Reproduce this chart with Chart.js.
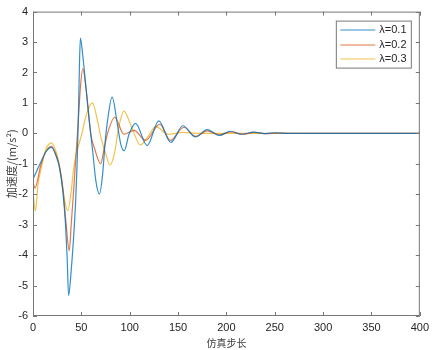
<!DOCTYPE html>
<html>
<head>
<meta charset="utf-8">
<script src="https://cdn.jsdelivr.net/npm/chart.js@4.4.0/dist/chart.umd.min.js"></script>
<style>
html, body { margin: 0; padding: 0; background: #fff; }
canvas { display: block; }
</style>
</head>
<body>
<canvas id="chart" width="434" height="350"></canvas>
<script>
// values (extrema and a few points in between)
let labels = ['λ=0.1', 'λ=0.2', 'λ=0.3'];
let colors = ['rgba(0,114,189,0.8)', 'rgba(217,83,25,0.8)', 'rgba(237,177,32,0.8)'];

let steps1 = [0, 8, 13, 19, 24, 27.5, 31, 33.6, 35.3, 36.8, 39.5, 42, 44, 45.5, 46.5, 47.3, 48, 49, 51.4, 54.8, 58.2, 61.7, 65, 68.7,
    72, 74.7, 77, 81.8, 87.3, 90.8, 94.3, 99.3, 106, 118, 130, 142.5, 155, 168, 180, 192.5, 204, 215.5, 228, 240, 251, 262, 300, 400];
let acc1 = [-1.5, -0.95, -0.62, -0.46, -0.75, -1.15, -1.95, -2.98, -4.07, -5.32, -4.5, -3.4, -2.3, -1.1, 0, 1.1, 2.2, 3.13, 2.58, 1.49, 0.4, -0.58, -1.56, -1.99,
    -1.34, -0.25, 0.4, 1.19, 0.29, -0.36, -0.57, -0.03, 0.33, -0.4, 0.41, -0.3, 0.25, -0.12, 0.12, -0.07, 0.07, -0.03, 0.04, -0.01, 0.02, 0, 0, 0];

let steps2 = [0, 2, 8, 13, 19, 24, 27.5, 31, 34, 37.5, 39.5, 42, 44.5, 47, 49, 51.5, 54.8, 60, 63.4, 70, 73.7, 78, 84.5,
    94, 104.5, 116.5, 131, 142, 156, 168, 180, 193, 205, 217, 229, 241, 252, 265, 300, 400];
let acc2 = [-1.6, -1.8, -1.05, -0.62, -0.43, -0.72, -1.1, -1.85, -2.9, -3.85, -3.0, -1.9, -0.7, 0.5, 1.5, 2.13, 1.49, -0.07, -0.47, -1.0, -0.47, 0.1, 0.53,
    -0.03, 0.1, -0.23, 0.3, -0.23, 0.2, -0.1, 0.08, -0.05, 0.05, -0.03, 0.03, -0.01, 0.01, 0, 0, 0];

let steps3 = [0, 2.5, 5.2, 8.6, 13, 19, 24, 27, 30.5, 33, 36, 39.5, 41.5, 44.5, 48, 51, 55, 61.5, 66.8, 70.3, 75.4, 79.5, 84,
    89, 94, 102, 111, 119, 127, 140, 155, 170, 190, 300, 400];
let acc3 = [-1.95, -2.55, -1.67, -1.13, -0.55, -0.31, -0.62, -1.0, -1.7, -2.25, -2.54, -1.9, -1.3, -0.7, -0.3, 0.05, 0.6, 1.0, 0.4, -0.14, -0.69, -1.04, -0.69,
    0.25, 0.73, 0.2, -0.38, -0.1, 0.22, -0.03, 0.03, 0, 0, 0, 0];

let xTicks = [0, 50, 100, 150, 200, 250, 300, 350, 400];
let yTicks = [-6, -5, -4, -3, -2, -1, 0, 1, 2, 3, 4];

let axisColor = '#777777';
let textColor = '#262626';

function points(xs, ys) {
    let p = [];
    for (let i = 0; i < xs.length; i++) {
        p.push({ x: xs[i], y: ys[i] });
    }
    return p;
}

let series = [points(steps1, acc1), points(steps2, acc2), points(steps3, acc3)];

let datasets = series.map((d, i) => ({
    label: labels[i],
    data: d,
    borderColor: colors[i],
    backgroundColor: colors[i],
    borderWidth: 1.2,
    pointRadius: 0,
    fill: false,
    cubicInterpolationMode: 'monotone'
}));

// box round the plot, inward ticks on all four sides, legend in the top right corner
const matlabAxes = {
    id: 'matlabAxes',
    afterDraw(chart) {
        const ctx = chart.ctx;
        const a = chart.chartArea;
        const x = chart.scales.x;
        const y = chart.scales.y;
        ctx.save();
        ctx.strokeStyle = axisColor;
        ctx.lineWidth = 1;
        ctx.strokeRect(a.left + 0.5, a.top + 0.5, a.right - a.left - 1, a.bottom - a.top - 1);
        ctx.beginPath();
        xTicks.forEach(v => {
            let px = Math.round(x.getPixelForValue(v)) + 0.5;
            ctx.moveTo(px, a.bottom);
            ctx.lineTo(px, a.bottom - 4);
            ctx.moveTo(px, a.top);
            ctx.lineTo(px, a.top + 4);
        });
        yTicks.forEach(v => {
            let py = Math.round(y.getPixelForValue(v)) + 0.5;
            ctx.moveTo(a.left, py);
            ctx.lineTo(a.left + 4, py);
            ctx.moveTo(a.right, py);
            ctx.lineTo(a.right - 4, py);
        });
        ctx.stroke();

        // legend
        let boxW = 75, boxH = 47;
        let bx = a.right - 9 - boxW + 0.5;
        let by = a.top + 9 + 0.5;
        ctx.fillStyle = '#fff';
        ctx.fillRect(bx, by, boxW, boxH);
        ctx.strokeStyle = axisColor;
        ctx.strokeRect(bx, by, boxW, boxH);
        ctx.font = '11px "Liberation Sans", Arial, sans-serif';
        ctx.textBaseline = 'middle';
        ctx.fillStyle = textColor;
        chart.data.datasets.forEach((ds, i) => {
            let ry = Math.round(by + 9 + i * 14.5);
            ctx.strokeStyle = ds.borderColor;
            ctx.lineWidth = 1.2;
            ctx.beginPath();
            ctx.moveTo(bx + 4, ry);
            ctx.lineTo(bx + 39, ry);
            ctx.stroke();
            ctx.fillText(ds.label, bx + 43, ry);
        });
        ctx.restore();
    }
};

new Chart(document.getElementById('chart'), {
    type: 'line',
    data: { datasets: datasets },
    options: {
        responsive: false,
        animation: false,
        devicePixelRatio: 1,
        layout: { padding: { left: 0, right: 11, top: 10, bottom: 0 } },
        plugins: { legend: { display: false }, tooltip: { enabled: false } },
        scales: {
            x: {
                type: 'linear',
                min: 0,
                max: 400,
                afterFit: s => { s.height = 34; },
                afterBuildTicks: s => { s.ticks = xTicks.map(v => ({ value: v })); },
                ticks: { color: textColor, font: { family: '"Liberation Sans", Arial', size: 11 }, padding: 5, maxRotation: 0 },
                grid: { display: false, drawTicks: false },
                border: { display: false },
                title: {
                    display: true,
                    text: '仿真步长',
                    color: '#404040',
                    font: { family: '"Noto Sans CJK SC"', size: 10 },
                    padding: { top: 0, bottom: 1 }
                }
            },
            y: {
                min: -6,
                max: 4,
                afterFit: s => { s.width = 33; },
                afterBuildTicks: s => { s.ticks = yTicks.map(v => ({ value: v })); },
                ticks: { color: textColor, font: { family: '"Liberation Sans", Arial', size: 11 }, padding: 5 },
                grid: { display: false, drawTicks: false },
                border: { display: false },
                title: {
                    display: true,
                    text: '加速度/(m/s²)',
                    color: '#404040',
                    font: { family: '"Noto Sans CJK SC"', size: 11 },
                    padding: { top: 5, bottom: 0 }
                }
            }
        }
    },
    plugins: [matlabAxes]
});
</script>
</body>
</html>
